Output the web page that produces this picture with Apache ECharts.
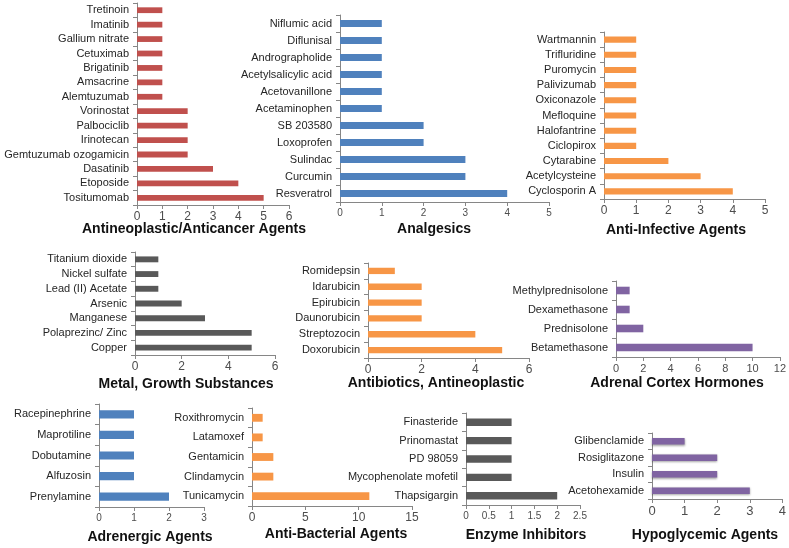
<!DOCTYPE html>
<html>
<head>
<meta charset="utf-8">
<script src="https://cdn.jsdelivr.net/npm/echarts@6/dist/echarts.min.js"></script>
<style>
  html, body { margin: 0; padding: 0; background: #fff; }
  #chart { width: 789px; height: 548px; }
</style>
</head>
<body>
<div id="chart"></div>
<script>
// data, listed top to bottom as drawn
var antineoplasticNames = ['Tretinoin', 'Imatinib', 'Gallium nitrate', 'Cetuximab', 'Brigatinib', 'Amsacrine', 'Alemtuzumab', 'Vorinostat', 'Palbociclib', 'Irinotecan', 'Gemtuzumab ozogamicin', 'Dasatinib', 'Etoposide', 'Tositumomab'];
var antineoplasticValues = [1, 1, 1, 1, 1, 1, 1, 2, 2, 2, 2, 3, 4, 5];

var analgesicNames = ['Niflumic acid', 'Diflunisal', 'Andrographolide', 'Acetylsalicylic acid', 'Acetovanillone', 'Acetaminophen', 'SB 203580', 'Loxoprofen', 'Sulindac', 'Curcumin', 'Resveratrol'];
var analgesicValues = [1, 1, 1, 1, 1, 1, 2, 2, 3, 3, 4];

var antiInfectiveNames = ['Wartmannin', 'Trifluridine', 'Puromycin', 'Palivizumab', 'Oxiconazole', 'Mefloquine', 'Halofantrine', 'Ciclopirox', 'Cytarabine', 'Acetylcysteine', 'Cyclosporin A'];
var antiInfectiveValues = [1, 1, 1, 1, 1, 1, 1, 1, 2, 3, 4];

var metalNames = ['Titanium dioxide', 'Nickel sulfate', 'Lead (II) Acetate', 'Arsenic', 'Manganese', 'Polaprezinc/ Zinc', 'Copper'];
var metalValues = [1, 1, 1, 2, 3, 5, 5];

var antibioticNames = ['Romidepsin', 'Idarubicin', 'Epirubicin', 'Daunorubicin', 'Streptozocin', 'Doxorubicin'];
var antibioticValues = [1, 2, 2, 2, 4, 5];

var adrenalNames = ['Methylprednisolone', 'Dexamethasone', 'Prednisolone', 'Betamethasone'];
var adrenalValues = [1, 1, 2, 10];

var adrenergicNames = ['Racepinephrine', 'Maprotiline', 'Dobutamine', 'Alfuzosin', 'Prenylamine'];
var adrenergicValues = [1, 1, 1, 1, 2];

var antiBacterialNames = ['Roxithromycin', 'Latamoxef', 'Gentamicin', 'Clindamycin', 'Tunicamycin'];
var antiBacterialValues = [1, 1, 2, 2, 11];

var enzymeNames = ['Finasteride', 'Prinomastat', 'PD 98059', 'Mycophenolate mofetil', 'Thapsigargin'];
var enzymeValues = [1, 1, 1, 1, 2];

var hypoglycemicNames = ['Glibenclamide', 'Rosiglitazone', 'Insulin', 'Acetohexamide'];
var hypoglycemicValues = [1, 2, 2, 3];

var panelTitles = ['Antineoplastic/Anticancer Agents', 'Analgesics', 'Anti-Infective Agents', 'Metal, Growth Substances', 'Antibiotics, Antineoplastic', 'Adrenal Cortex Hormones', 'Adrenergic Agents', 'Anti-Bacterial Agents', 'Enzyme Inhibitors', 'Hypoglycemic Agents'];
var axisMax = [6, 5, 5, 6, 6, 12, 3, 15, 2.5, 4];
var axisStep = [1, 1, 1, 2, 2, 2, 1, 5, 0.5, 1];

var names = [antineoplasticNames, analgesicNames, antiInfectiveNames, metalNames, antibioticNames, adrenalNames, adrenergicNames, antiBacterialNames, enzymeNames, hypoglycemicNames];
var values = [antineoplasticValues, analgesicValues, antiInfectiveValues, metalValues, antibioticValues, adrenalValues, adrenergicValues, antiBacterialValues, enzymeValues, hypoglycemicValues];

// layout of each panel: plot box, bar colour, title position
var layout = [
  { left: 137, top: 3, width: 152, bottom: 205, color: '#C0504D', tx: 194, ty: 230, fs: 12 },
  { left: 340, top: 15, width: 209, bottom: 202, color: '#4F81BD', tx: 434, ty: 230, fs: 10 },
  { left: 604, top: 32, width: 161, bottom: 199, color: '#F79646', tx: 676, ty: 231, fs: 12 },
  { left: 135, top: 252, width: 140, bottom: 355, color: '#595959', tx: 186, ty: 385, fs: 12 },
  { left: 368, top: 263, width: 161, bottom: 358, color: '#F79646', tx: 436, ty: 384, fs: 12 },
  { left: 616, top: 281, width: 166, bottom: 357, color: '#8064A2', tx: 677, ty: 384, fs: 11 },
  { left: 99, top: 404, width: 105, bottom: 507, color: '#4F81BD', tx: 150, ty: 538, fs: 10 },
  { left: 252, top: 408, width: 160, bottom: 506, color: '#F79646', tx: 336, ty: 535, fs: 12 },
  { left: 466, top: 413, width: 114, bottom: 505, color: '#595959', tx: 526, ty: 536, fs: 10 },
  { left: 652, top: 433, width: 131, bottom: 499, color: '#8064A2', tx: 705, ty: 536, fs: 13 }
];

var font = 'Liberation Sans, Arial, sans-serif';
var axisGray = '#868686';

var grid = [], xAxis = [], yAxis = [], series = [], title = [];

layout.forEach(function (p, i) {
  grid.push({
    left: p.left,
    top: p.top,
    width: p.width,
    height: p.bottom - p.top,
    containLabel: false
  });
  xAxis.push({
    gridIndex: i,
    type: 'value',
    min: 0,
    max: axisMax[i],
    interval: axisStep[i],
    splitLine: { show: false },
    axisLine: { show: true, lineStyle: { color: axisGray } },
    axisTick: { show: true, length: 4, lineStyle: { color: axisGray } },
    axisLabel: { color: '#4d4d4d', fontSize: p.fs, fontFamily: font, margin: 6 }
  });
  yAxis.push({
    gridIndex: i,
    type: 'category',
    inverse: true,
    data: names[i],
    axisLine: { show: true, lineStyle: { color: axisGray } },
    axisTick: { show: true, length: 4, lineStyle: { color: axisGray } },
    axisLabel: { color: '#262626', fontSize: 11, fontFamily: font, margin: 8, interval: 0 }
  });
  series.push({
    type: 'bar',
    xAxisIndex: i,
    yAxisIndex: i,
    data: values[i],
    barWidth: '40%',
    silent: true,
    itemStyle: i === 9 ? {
      color: p.color,
      shadowColor: 'rgba(0,0,0,0.35)',
      shadowBlur: 2,
      shadowOffsetY: 1
    } : { color: p.color }
  });
  title.push({
    text: panelTitles[i],
    left: p.tx,
    top: p.ty - 8,
    textAlign: 'center',
    padding: 0,
    textStyle: { fontSize: 14, fontWeight: 'bold', color: '#111', fontFamily: font }
  });
});

var chart = echarts.init(document.getElementById('chart'));
chart.setOption({
  animation: false,
  backgroundColor: '#fff',
  title: title,
  grid: grid,
  xAxis: xAxis,
  yAxis: yAxis,
  series: series
});
</script>
</body>
</html>
